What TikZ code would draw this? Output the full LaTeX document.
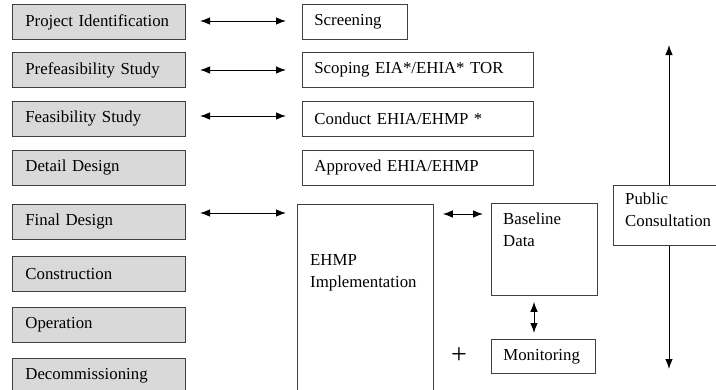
\documentclass[tikz,border=0pt]{standalone}
\usepackage{fontspec}
\setmainfont{Liberation Serif}
\usetikzlibrary{arrows.meta}
\begin{document}
\begin{tikzpicture}[x=1pt,y=-1pt,
  every node/.style={font=\fontsize{16.8}{22}\selectfont},
  stage/.style={draw=black!75, line width=0.8pt, fill=black!15, anchor=north west,
    minimum width=173, minimum height=35, text width=147, inner xsep=13, inner ysep=0, align=left},
  task/.style={draw=black!75, line width=0.8pt, fill=white, anchor=north west,
    minimum height=35, inner xsep=12, inner ysep=0, align=left},
  frame/.style={draw=black!75, line width=0.8pt, fill=white, anchor=north west, inner sep=0},
  caption/.style={anchor=north west, align=left, inner sep=0},
  link/.style={line width=1pt, {Latex[length=10,width=7.5]}-{Latex[length=10,width=7.5]}},
  ray/.style={line width=1pt, -{Latex[length=10,width=7.5]}}]
\useasboundingbox (0,0) rectangle (716,389);
\clip (0,0) rectangle (716,389);

% project stages
\node[stage] (s1) at (12,4)   {Project Identification};
\node[stage] (s2) at (12,52)  {Prefeasibility Study};
\node[stage] (s3) at (12,101) {Feasibility Study};
\node[stage] (s4) at (12,150) {Detail Design};
\node[stage] (s5) at (12,204) {Final Design};
\node[stage] (s6) at (12,256) {Construction};
\node[stage] (s7) at (12,307) {Operation};
\node[stage] (s8) at (12,358) {Decommissioning};

% environmental tasks
\node[task, minimum width=105, text width=81]  (t1) at (302,4)   {Screening};
\node[task, minimum width=231, text width=207] (t2) at (302,52)  {Scoping EIA*/EHIA* TOR};
\node[task, minimum width=231, text width=207] (t3) at (302,101) {Conduct EHIA/EHMP *};
\node[task, minimum width=231, text width=207] (t4) at (302,150) {Approved EHIA/EHMP};

% implementation block
\node[frame, minimum width=136, minimum height=200] (ehmp) at (297,204) {};
\node[caption] (ehmpt) at (310,254) {EHMP\\Implementation};

\node[frame, minimum width=106, minimum height=92] (base) at (491,203) {};
\node[caption] (baset) at (503,213) {Baseline\\Data};

\node[task, minimum width=104, minimum height=34, text width=80] (mon) at (491,339) {Monitoring};
\node[inner sep=0, font=\fontsize{28}{28}\selectfont] (plus) at (459,356) {+};

% public consultation
\node[frame, minimum width=110, minimum height=60] (pc) at (613,185) {};
\node[caption] (pct) at (625,193) {Public\\Consultation};
\coordinate (pctop) at (669,45);
\coordinate (pcbot) at (669,369);

% connectors
\coordinate (a1) at (200,21);  \coordinate (b1) at (286,21);
\coordinate (a2) at (200,70);  \coordinate (b2) at (286,70);
\coordinate (a3) at (200,116); \coordinate (b3) at (286,116);
\coordinate (a5) at (200,213); \coordinate (b5) at (286,213);
\draw[link] (a1) -- (b1);
\draw[link] (a2) -- (b2);
\draw[link] (a3) -- (b3);
\draw[link] (a5) -- (b5);
\draw[link] ([xshift=9]ehmp.east |- 0,214) -- ([xshift=-8]base.west |- 0,214);
\draw[link] ([yshift=-6]base.south -| 534,0) -- ([yshift=6]mon.north -| 534,0);
\draw[ray] (pc.north -| pctop) -- (pctop);
\draw[ray] (pc.south -| pcbot) -- (pcbot);
\end{tikzpicture}
\end{document}
